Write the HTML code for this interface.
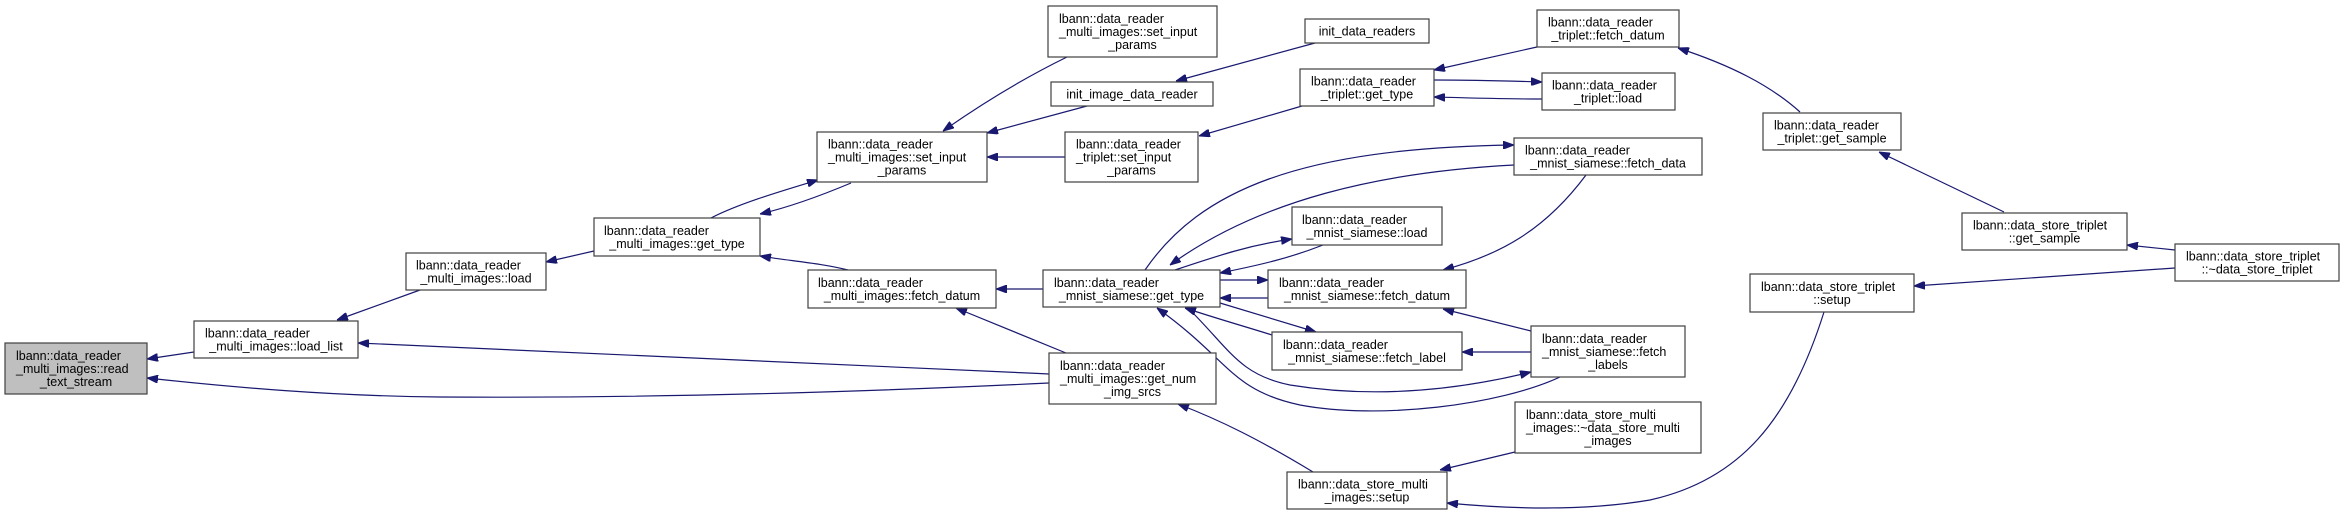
<!DOCTYPE html>
<html><head><meta charset="utf-8"><style>
html,body{margin:0;padding:0;background:#fff;}
svg{display:block;}
text{font-family:"Liberation Sans",Arial,sans-serif;font-size:12.5px;fill:#000;}
.n{fill:#fff;stroke:#404040;stroke-width:1.2;}
.e{fill:none;stroke:#191970;stroke-width:1.2;marker-end:url(#ah);}
</style></head><body>
<svg width="2345" height="515" viewBox="0 0 2345 515" xmlns="http://www.w3.org/2000/svg">
<defs><marker id="ah" markerUnits="userSpaceOnUse" markerWidth="11" markerHeight="8" refX="11" refY="4" orient="auto"><path d="M0,0 L11,4 L0,8 z" fill="#191970" stroke="#191970"/></marker></defs>

<!-- edges -->
<path class="e" d="M194,352 L147,359"/>
<path class="e" d="M1049,383 C800,395 600,398 440,397 C330,396 230,387 147,378"/>
<path class="e" d="M1049,374 C800,362 550,350 358,343"/>
<path class="e" d="M420,290 L337,320"/>
<path class="e" d="M594,251 L546,262"/>
<path class="e" d="M711,218 C740,203 785,190 818,180"/>
<path class="e" d="M851,183 C820,196 790,207 760,214"/>
<path class="e" d="M848,270 C820,263 790,261 760,256"/>
<path class="e" d="M1067,57 C1020,80 980,105 943,131"/>
<path class="e" d="M1087,106 L987,133"/>
<path class="e" d="M1315,43 L1176,81"/>
<path class="e" d="M1065,157 L987,157"/>
<path class="e" d="M1302,106 L1199,136"/>
<path class="e" d="M1537,47 L1434,70"/>
<path class="e" d="M1434,80 C1480,80 1510,81 1542,82"/>
<path class="e" d="M1542,99 C1500,99 1470,98 1434,97"/>
<path class="e" d="M1800,112 C1770,85 1730,65 1678,48"/>
<path class="e" d="M2004,212 L1879,152"/>
<path class="e" d="M2175,250 L2127,245"/>
<path class="e" d="M2175,268 L1914,286"/>
<path class="e" d="M1824,312 C1790,420 1740,480 1650,500 C1580,512 1500,508 1447,503"/>
<path class="e" d="M1515,452 L1440,470"/>
<path class="e" d="M1313,472 C1260,440 1220,420 1178,404"/>
<path class="e" d="M1066,353 L956,308"/>
<path class="e" d="M1043,289 L996,289"/>
<path class="e" d="M1145,270 C1200,190 1300,148 1514,145"/>
<path class="e" d="M1514,165 C1380,172 1260,200 1170,265"/>
<path class="e" d="M1586,175 C1545,230 1500,255 1443,270"/>
<path class="e" d="M1175,270 C1220,255 1250,245 1292,239"/>
<path class="e" d="M1323,245 C1290,258 1260,265 1220,273"/>
<path class="e" d="M1220,280 L1268,280"/>
<path class="e" d="M1268,298 L1220,298"/>
<path class="e" d="M1220,303 L1316,332"/>
<path class="e" d="M1272,335 C1240,325 1215,318 1185,308"/>
<path class="e" d="M1531,352 L1462,352"/>
<path class="e" d="M1531,331 L1443,309"/>
<path class="e" d="M1190,310 C1230,350 1240,375 1290,385 C1370,398 1450,392 1531,372"/>
<path class="e" d="M1560,377 C1500,405 1380,420 1300,405 C1230,390 1230,360 1157,308"/>

<!-- nodes -->
<rect x="5" y="343" width="142" height="51" style="fill:#bfbfbf;stroke:#404040;stroke-width:1.2"/>
<text x="16" y="360">lbann::data_reader</text><text x="16" y="373">_multi_images::read</text><text x="76" y="386" text-anchor="middle">_text_stream</text>

<rect class="n" x="194" y="321" width="164" height="37"/>
<text x="205" y="337.5">lbann::data_reader</text><text x="276" y="350.5" text-anchor="middle">_multi_images::load_list</text>

<rect class="n" x="406" y="253" width="140" height="37"/>
<text x="416" y="269.5">lbann::data_reader</text><text x="476" y="282.5" text-anchor="middle">_multi_images::load</text>

<rect class="n" x="594" y="218" width="166" height="38"/>
<text x="604" y="235">lbann::data_reader</text><text x="677" y="248" text-anchor="middle">_multi_images::get_type</text>

<rect class="n" x="817" y="132" width="170" height="50"/>
<text x="828" y="148.5">lbann::data_reader</text><text x="828" y="161.5">_multi_images::set_input</text><text x="902" y="174.5" text-anchor="middle">_params</text>

<rect class="n" x="1048" y="6" width="169" height="51"/>
<text x="1059" y="23">lbann::data_reader</text><text x="1059" y="36">_multi_images::set_input</text><text x="1132.5" y="49" text-anchor="middle">_params</text>

<rect class="n" x="1051" y="82" width="162" height="24"/>
<text x="1132" y="98.5" text-anchor="middle">init_image_data_reader</text>

<rect class="n" x="1305" y="19" width="124" height="24"/>
<text x="1367" y="35.5" text-anchor="middle">init_data_readers</text>

<rect class="n" x="1065" y="132" width="133" height="50"/>
<text x="1076" y="148.5">lbann::data_reader</text><text x="1076" y="161.5">_triplet::set_input</text><text x="1131.5" y="174.5" text-anchor="middle">_params</text>

<rect class="n" x="1300" y="69" width="134" height="37"/>
<text x="1311" y="85.5">lbann::data_reader</text><text x="1367" y="98.5" text-anchor="middle">_triplet::get_type</text>

<rect class="n" x="1537" y="10" width="142" height="37"/>
<text x="1548" y="26.5">lbann::data_reader</text><text x="1608" y="39.5" text-anchor="middle">_triplet::fetch_datum</text>

<rect class="n" x="1542" y="73" width="133" height="37"/>
<text x="1552" y="89.5">lbann::data_reader</text><text x="1608" y="102.5" text-anchor="middle">_triplet::load</text>

<rect class="n" x="1514" y="138" width="188" height="37"/>
<text x="1525" y="154.5">lbann::data_reader</text><text x="1608" y="167.5" text-anchor="middle">_mnist_siamese::fetch_data</text>

<rect class="n" x="1292" y="207" width="150" height="38"/>
<text x="1302" y="224">lbann::data_reader</text><text x="1367" y="237" text-anchor="middle">_mnist_siamese::load</text>

<rect class="n" x="808" y="270" width="188" height="38"/>
<text x="818" y="287">lbann::data_reader</text><text x="902" y="300" text-anchor="middle">_multi_images::fetch_datum</text>

<rect class="n" x="1043" y="270" width="177" height="37"/>
<text x="1054" y="287">lbann::data_reader</text><text x="1131.5" y="300" text-anchor="middle">_mnist_siamese::get_type</text>

<rect class="n" x="1268" y="270" width="198" height="38"/>
<text x="1279" y="287">lbann::data_reader</text><text x="1367" y="300" text-anchor="middle">_mnist_siamese::fetch_datum</text>

<rect class="n" x="1272" y="332" width="190" height="38"/>
<text x="1283" y="349">lbann::data_reader</text><text x="1367" y="362" text-anchor="middle">_mnist_siamese::fetch_label</text>

<rect class="n" x="1531" y="326" width="154" height="51"/>
<text x="1542" y="343">lbann::data_reader</text><text x="1542" y="356">_mnist_siamese::fetch</text><text x="1608" y="369" text-anchor="middle">_labels</text>

<rect class="n" x="1049" y="353" width="167" height="51"/>
<text x="1060" y="370">lbann::data_reader</text><text x="1060" y="383">_multi_images::get_num</text><text x="1132.5" y="396" text-anchor="middle">_img_srcs</text>

<rect class="n" x="1287" y="472" width="160" height="37"/>
<text x="1298" y="488.5">lbann::data_store_multi</text><text x="1367" y="501.5" text-anchor="middle">_images::setup</text>

<rect class="n" x="1515" y="402" width="186" height="51"/>
<text x="1526" y="419">lbann::data_store_multi</text><text x="1526" y="432">_images::~data_store_multi</text><text x="1608" y="445" text-anchor="middle">_images</text>

<rect class="n" x="1763" y="113" width="138" height="37"/>
<text x="1774" y="129.5">lbann::data_reader</text><text x="1832" y="142.5" text-anchor="middle">_triplet::get_sample</text>

<rect class="n" x="1962" y="213" width="165" height="37"/>
<text x="1973" y="229.5">lbann::data_store_triplet</text><text x="2044.5" y="242.5" text-anchor="middle">::get_sample</text>

<rect class="n" x="2175" y="244" width="164" height="37"/>
<text x="2186" y="260.5">lbann::data_store_triplet</text><text x="2257" y="273.5" text-anchor="middle">::~data_store_triplet</text>

<rect class="n" x="1750" y="274" width="164" height="38"/>
<text x="1761" y="291">lbann::data_store_triplet</text><text x="1832" y="304" text-anchor="middle">::setup</text>
</svg>
</body></html>
